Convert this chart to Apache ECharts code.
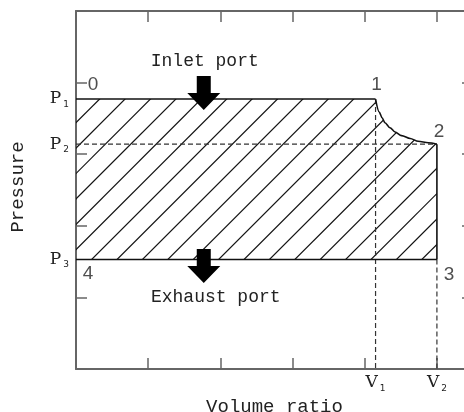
<!DOCTYPE html>
<html><head><meta charset="utf-8">
<script src="https://cdn.jsdelivr.net/npm/echarts@6/dist/echarts.min.js"></script>
<style>html,body{margin:0;padding:0;background:#fff}#c{width:464px;height:412px}</style>
</head><body><div id="c"></div>
<script>
// ---- data ----
const P1 = 3.77, P2 = 3.14, P3 = 1.53;
const V1 = 4.15, V2 = 5.0;
const pLabelValues = [P1, P2, P3];
const pLabelSubs = ['1', '2', '3'];
const vLabelValues = [V1, V2];
const vLabelSubs = ['1', '2'];
const stateNames = ['0', '1', '2', '3', '4'];
const stateX = [0, V1, V2, V2, 0];
const stateY = [P1, P1, P2, P3, P3];
const curveX = [4.15, 4.20, 4.24, 4.28, 4.35, 4.42, 4.51, 4.63, 4.74, 4.88, 5.0];
const curveY = [3.77, 3.59, 3.51, 3.44, 3.37, 3.31, 3.26, 3.22, 3.18, 3.16, 3.14];
const arrowNames = ['Inlet port', 'Exhaust port'];
const arrowX = [1.77, 1.77];
const arrowY = [3.855, 1.44];

// ---- styles ----
const frameColor = '#666';
const inkColor = '#111';
const monoFont = '"Liberation Mono", "DejaVu Sans Mono", monospace';
const serifFont = '"DejaVu Serif", "Liberation Serif", serif';
const stateOffsets = [[17, -14], [1, -14], [2, -12], [12, 15], [12, 14]];
const arrowLabelOffsets = [[1, -32], [12, 31]];

function findIdx(arr, v) {
  for (let i = 0; i < arr.length; i++) if (Math.abs(arr[i] - v) < 1e-6) return i;
  return -1;
}
const subRich = {
  p: { fontFamily: serifFont, fontSize: 17, color: '#222', lineHeight: 20 },
  s: { fontFamily: '"DejaVu Sans", sans-serif', fontSize: 9, color: '#222', lineHeight: 20, verticalAlign: 'bottom', padding: [6, 0, 0, 2] }
};

const baseAxis = {
  type: 'value',
  min: 0,
  splitLine: { show: false },
  axisLine: { show: true, onZero: false, lineStyle: { color: frameColor, width: 2 } },
  axisTick: { show: true, inside: true, length: 11, lineStyle: { color: frameColor, width: 1.5 } }
};

const chart = echarts.init(document.getElementById('c'), null, { renderer: 'canvas' });

const outline = (data, extra) => Object.assign({
  type: 'line', data: data, symbol: 'none', silent: true, z: 5,
  lineStyle: { color: inkColor, width: 1.6 }
}, extra || {});
const dashed = (data) => ({
  type: 'line', data: data, symbol: 'none', silent: true, z: 4,
  lineStyle: { color: '#333', width: 1.2, type: [5, 3] }
});

chart.setOption({
  animation: false,
  backgroundColor: '#fff',
  grid: { left: 76, top: 11, width: 397, height: 358, outerBoundsMode: 'none', containLabel: false },
  xAxis: [
    Object.assign({}, baseAxis, {
      max: 5.5, interval: 1, position: 'bottom',
      axisLabel: {
        customValues: vLabelValues, margin: 4,
        formatter: v => { const i = findIdx(vLabelValues, v); return i < 0 ? '' : '{p|V}{s|' + vLabelSubs[i] + '}'; },
        rich: subRich
      },
      name: 'Volume ratio', nameLocation: 'middle', nameGap: 24,
      nameTextStyle: { fontFamily: monoFont, fontSize: 19, color: '#222' }
    }),
    Object.assign({}, baseAxis, { max: 5.5, interval: 1, position: 'top', axisLabel: { show: false } })
  ],
  yAxis: [
    Object.assign({}, baseAxis, {
      max: 5, interval: 1, position: 'left',
      axisLabel: {
        customValues: pLabelValues, margin: 7,
        formatter: v => { const i = findIdx(pLabelValues, v); return i < 0 ? '' : '{p|P}{s|' + pLabelSubs[i] + '}'; },
        rich: subRich
      },
      name: 'Pressure', nameLocation: 'middle', nameGap: 49,
      nameTextStyle: { fontFamily: monoFont, fontSize: 19, color: '#222', padding: [0, 0, 0, 6] }
    }),
    Object.assign({}, baseAxis, { max: 5, interval: 1, position: 'right', axisLabel: { show: false } })
  ],
  series: [
    {
      type: 'custom', silent: true, z: 2,
      data: [0],
      renderItem: function (params, api) {
        const pts = [api.coord([0, P1])];
        for (let i = 0; i < curveX.length; i++) pts.push(api.coord([curveX[i], curveY[i]]));
        pts.push(api.coord([V2, P3]));
        pts.push(api.coord([0, P3]));
        let x0 = Infinity, x1 = -Infinity, y0 = Infinity, y1 = -Infinity;
        pts.forEach(p => { x0 = Math.min(x0, p[0]); x1 = Math.max(x1, p[0]); y0 = Math.min(y0, p[1]); y1 = Math.max(y1, p[1]); });
        const o = api.coord([0, 0]);
        const base = o[0] + o[1];
        const step = 25.4, phase = 0.303;
        const children = [];
        const mMin = Math.floor((x0 + y0 - base) / step) - 1;
        const mMax = Math.ceil((x1 + y1 - base) / step) + 1;
        for (let m = mMin; m <= mMax; m++) {
          const c = base + step * (m + phase);
          children.push({
            type: 'line',
            shape: { x1: c - y1 - 5, y1: y1 + 5, x2: c - y0 + 5, y2: y0 - 5 },
            style: { stroke: inkColor, lineWidth: 1.2 }
          });
        }
        return {
          type: 'group',
          children: children,
          clipPath: { type: 'polygon', shape: { points: pts } }
        };
      }
    },
    dashed([[0, P2], [V2, P2]]),
    dashed([[V1, P1], [V1, 0]]),
    dashed([[V2, P3], [V2, 0]]),
    outline([[0, P1], [V1, P1]]),
    outline(curveX.map((x, i) => [x, curveY[i]]), { smooth: 0.3, smoothMonotone: 'x' }),
    outline([[V2, P2], [V2, P3]]),
    outline([[0, P3], [V2, P3]]),
    {
      type: 'scatter', silent: true, z: 8,
      symbol: 'path://M9.5,0 L23.5,0 L23.5,17 L33,17 L16.5,34 L0,17 L9.5,17 Z',
      symbolSize: [33, 34],
      itemStyle: { color: '#000', opacity: 1 },
      data: arrowX.map((x, i) => ({
        value: [x, arrowY[i]],
        label: {
          show: true, position: 'inside', offset: arrowLabelOffsets[i],
          formatter: arrowNames[i],
          fontFamily: monoFont, fontSize: 18, color: '#222'
        }
      }))
    },
    {
      type: 'scatter', silent: true, z: 9,
      symbolSize: 0,
      itemStyle: { color: 'transparent' },
      data: stateX.map((x, i) => ({
        value: [x, stateY[i]],
        label: {
          show: true, position: 'inside', offset: stateOffsets[i],
          formatter: stateNames[i],
          fontFamily: '"Liberation Sans", "DejaVu Sans", sans-serif', fontSize: 19, color: '#222'
        }
      }))
    }
  ]
});
</script>
</body></html>
